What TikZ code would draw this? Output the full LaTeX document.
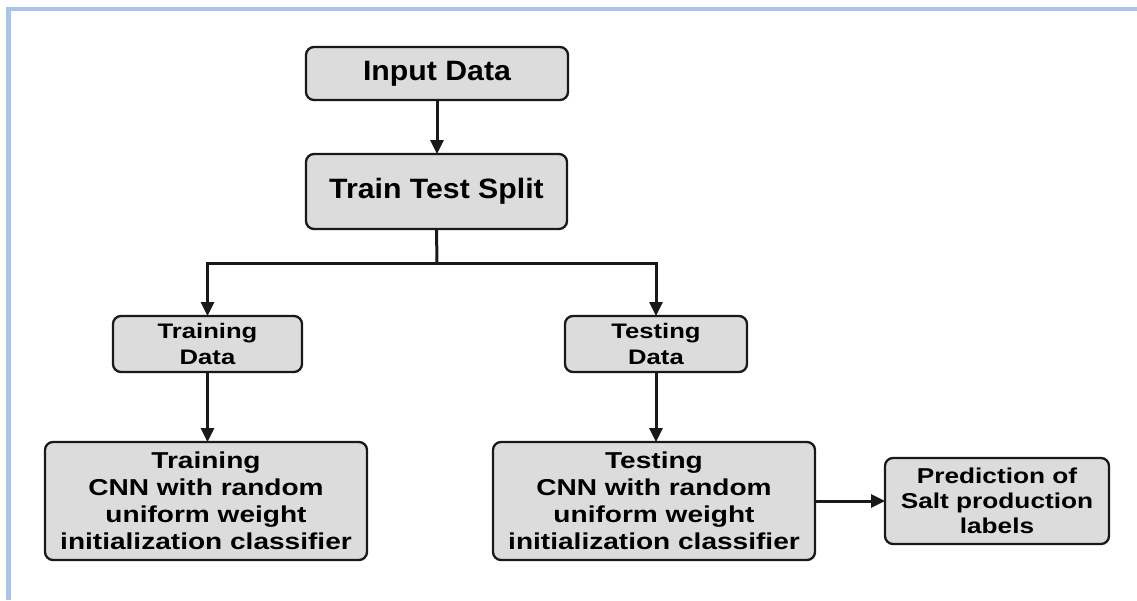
\documentclass[tikz,border=0pt]{standalone}
\usepackage{fontspec}
\usetikzlibrary{arrows.meta,calc}
\newfontfamily\fontA{Liberation Sans}[FakeStretch=1.08]
\newfontfamily\fontB{Liberation Sans}[FakeStretch=1.22]
\definecolor{boxfill}{HTML}{DCDCDC}
\definecolor{frameblue}{HTML}{A9C4E8}
\tikzset{
  procbox/.style={draw=black!90, line width=2.3pt, fill=boxfill, rounded corners=8pt,
    align=center, inner sep=0pt, outer sep=0pt},
  conn/.style={line width=3pt, black!90},
  arr/.style={conn, -{Triangle[length=14pt,width=13pt]}}
}
\begin{document}
\begin{tikzpicture}[x=1pt,y=-1pt]
\useasboundingbox (0,0) rectangle (1137,600);
\fill[frameblue] (6,7) rectangle (1137,10.5);
\fill[frameblue] (6,7) rectangle (11,600);

\node[procbox, minimum width=262pt, minimum height=53pt,
  font=\fontA\bfseries\fontsize{28}{32}\selectfont] (inp) at (437,73.5) {Input Data};
\node[procbox, minimum width=261pt, minimum height=75pt,
  font=\fontA\bfseries\fontsize{28}{32}\selectfont] (split) at (436.5,191.5) {Train Test Split};
\node[procbox, minimum width=189pt, minimum height=56pt,
  font=\fontB\bfseries\fontsize{21}{25.7}\selectfont] (trd) at (207.5,344) {Training\\Data};
\node[procbox, minimum width=182pt, minimum height=56pt,
  font=\fontB\bfseries\fontsize{21}{25.7}\selectfont] (ted) at (656,344) {Testing\\Data};
\node[procbox, minimum width=322pt, minimum height=118pt,
  font=\fontB\bfseries\fontsize{23}{27}\selectfont] (trc) at (206,501)
  {Training\\CNN with random\\uniform weight\\initialization classifier};
\node[procbox, minimum width=322pt, minimum height=118pt,
  font=\fontB\bfseries\fontsize{23}{27}\selectfont] (tec) at (654,501)
  {Testing\\CNN with random\\uniform weight\\initialization classifier};
\node[procbox, minimum width=224pt, minimum height=86pt,
  font=\fontB\bfseries\fontsize{21.5}{25}\selectfont] (pred) at (997,501)
  {Prediction of\\Salt production\\labels};

\coordinate (j) at (437,263);
\draw[arr] (inp.south) -- (inp.south |- split.north);
\draw[conn] (split.south) -- (j);
\draw[arr] (j) -| (trd.north);
\draw[arr] (j) -| (ted.north);
\draw[arr] (trd.south) -- (trd.south |- trc.north);
\draw[arr] (ted.south) -- (ted.south |- tec.north);
\draw[arr] (tec.east) -- (pred.west |- tec.east);
\end{tikzpicture}
\end{document}
